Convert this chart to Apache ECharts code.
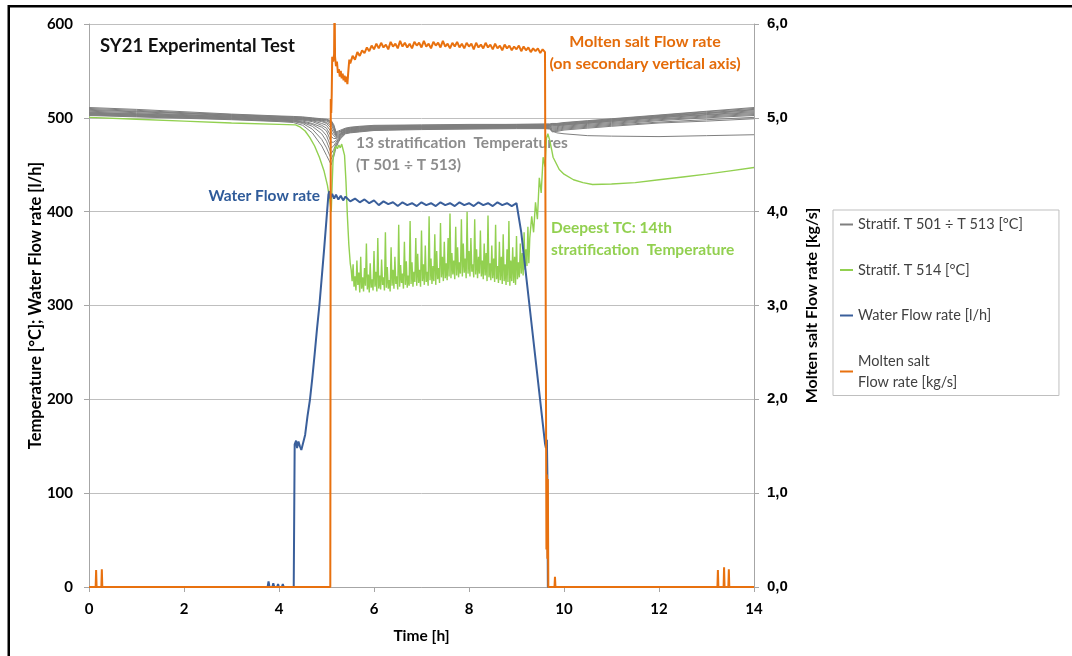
<!DOCTYPE html>
<html>
<head>
<meta charset="utf-8">
<title>SY21 Experimental Test</title>
<script src="https://cdn.jsdelivr.net/npm/echarts@6.0.0/dist/echarts.min.js"></script>
<style>
    html, body { margin: 0; padding: 0; background: #fff; }
    #mainChart { width: 1072px; height: 656px; }
</style>
</head>
<body>
<div id="mainChart"></div>
<script>
'use strict';

// axis ticks
var timeTicks = [0, 2, 4, 6, 8, 10, 12, 14];

// 13 stratification temperatures, all sampled on the same times
var grayTime = [0, 1, 2, 3, 4, 4.3, 4.5, 4.7, 4.9, 5.0, 5.1, 5.15, 5.2, 5.25, 5.3, 5.4, 5.5, 5.7, 6, 7, 8, 9, 9.6, 9.7, 9.75, 9.85, 10, 10.5, 11, 12, 13, 14];
var strat501 = [511, 509, 506.5, 504, 502, 501.5, 501, 500, 499, 498.5, 497, 493, 485, 486, 487, 489, 490, 491, 492, 492.5, 493, 493, 493.5, 493.5, 494, 494, 495, 497, 499, 503, 507, 511];
var strat502 = [510, 508, 505.5, 503.5, 501.5, 501, 500.5, 499.5, 498.5, 498, 496, 492, 484, 485, 486, 488.5, 489.5, 490.5, 491.5, 492, 492.5, 493, 493, 493, 493.5, 493.5, 494.5, 496.5, 498.5, 502.5, 506.5, 510];
var strat503 = [509, 507, 505, 503, 501, 500.5, 500, 499, 498, 497.5, 495, 491, 483, 484, 485.5, 488, 489, 490, 491, 491.5, 492, 492.5, 492.5, 492.5, 493, 493, 494, 496, 498, 502, 505.5, 509];
var strat504 = [508, 506.5, 504.5, 502.5, 500.5, 500, 499.5, 498.5, 497.5, 496.5, 494, 489, 482, 483, 485, 487.5, 488.5, 489.5, 490.5, 491, 491.5, 492, 492, 492.5, 492.5, 492.5, 493.5, 495.5, 497.5, 501.5, 505, 508.5];
var strat505 = [507, 505.5, 503.5, 502, 500, 499.5, 499, 498, 497, 495, 492, 487, 481, 482, 484, 487, 488, 489, 490, 490.5, 491, 491.5, 491.5, 492, 492, 492, 493, 495, 497, 501, 504.5, 507.5];
var strat506 = [506, 504.5, 503, 501.5, 499.5, 499, 498.5, 497.5, 496, 494, 489, 484, 480, 481, 483.5, 486.5, 487.5, 488.5, 489.5, 490.5, 491, 491, 491.5, 491.5, 491, 491.5, 492.5, 494.5, 496.5, 500.5, 503.5, 506.5];
var strat507 = [505.5, 504, 502.5, 501, 499, 498.5, 498, 497, 494, 492, 485, 481, 479, 480, 483, 486, 487, 488, 489, 490, 490.5, 491, 491, 491, 490, 490.5, 492, 494, 496, 500, 503, 505.5];
var strat508 = [505, 503.5, 502, 500.5, 498.5, 498, 497.5, 496, 492, 489, 480, 478, 478, 479, 482.5, 485.5, 486.5, 487.5, 488.5, 489.5, 490, 490.5, 490.5, 490.5, 489, 489.5, 491, 493, 495, 499, 502, 504.5];
var strat509 = [504.5, 503, 501.5, 500, 498, 497.5, 496.5, 494, 490, 486, 474, 474, 476, 478, 482, 485, 486, 487, 488, 489, 489.5, 490, 490, 490, 488, 488.5, 490, 492, 494, 498, 501, 503.5];
var strat510 = [504, 502.5, 501, 499.5, 497.5, 497, 495.5, 493, 487, 481, 468, 470, 474, 477, 481, 484.5, 485.5, 486.5, 488, 489, 489.5, 490, 490, 489.5, 487, 487.5, 489, 491, 493, 497, 500, 502.5];
var strat511 = [503.5, 502, 500.5, 499, 497, 496.5, 495, 491, 483, 475, 462, 466, 472, 476, 480, 484, 485, 486, 487.5, 488.5, 489, 489.5, 489.5, 489, 486, 486.5, 488, 490, 492, 495.5, 498, 500.5];
var strat512 = [503, 501.5, 500, 498.5, 496.5, 496, 494, 488, 477, 468, 456, 462, 470, 475, 479, 483.5, 484.5, 485.5, 487, 488, 488.5, 489, 489, 488.5, 485, 485.5, 487, 489, 491, 494.5, 496.5, 499];
var strat513 = [502.5, 501, 499.5, 498, 496, 495, 492, 484, 470, 460, 450, 458, 468, 474, 478, 483, 484, 485, 486.5, 487.5, 488, 488.5, 488.5, 488, 486, 484, 483, 481, 480.5, 480, 481, 482];

// deepest thermocouple T 514
var greenTime = [0, 1, 2, 3, 4, 4.35, 4.45, 4.55, 4.65, 4.75, 4.85, 4.95, 5.02, 5.07, 5.1, 5.12, 5.14, 5.17, 5.2, 5.23, 5.26, 5.29, 5.32, 5.35, 5.38, 5.41, 5.44, 5.47, 5.5,
    5.52, 5.54, 5.56, 5.58, 5.60, 5.62, 5.64, 5.66, 5.68, 5.70,
    5.72, 5.74, 5.76, 5.78, 5.80, 5.82, 5.84, 5.86, 5.88, 5.90,
    5.92, 5.94, 5.96, 5.98, 6.00, 6.02, 6.04, 6.06, 6.08, 6.10,
    6.12, 6.14, 6.16, 6.18, 6.20, 6.22, 6.24, 6.26, 6.28, 6.30,
    6.32, 6.34, 6.36, 6.38, 6.40, 6.42, 6.44, 6.46, 6.48, 6.50,
    6.52, 6.54, 6.56, 6.58, 6.60, 6.62, 6.64, 6.66, 6.68, 6.70,
    6.72, 6.74, 6.76, 6.78, 6.80, 6.82, 6.84, 6.86, 6.88, 6.90,
    6.92, 6.94, 6.96, 6.98, 7.00, 7.02, 7.04, 7.06, 7.08, 7.10,
    7.12, 7.14, 7.16, 7.18, 7.20, 7.22, 7.24, 7.26, 7.28, 7.30,
    7.32, 7.34, 7.36, 7.38, 7.40, 7.42, 7.44, 7.46, 7.48, 7.50,
    7.52, 7.54, 7.56, 7.58, 7.60, 7.62, 7.64, 7.66, 7.68, 7.70,
    7.72, 7.74, 7.76, 7.78, 7.80, 7.82, 7.84, 7.86, 7.88, 7.90,
    7.92, 7.94, 7.96, 7.98, 8.00, 8.02, 8.04, 8.06, 8.08, 8.10,
    8.12, 8.14, 8.16, 8.18, 8.20, 8.22, 8.24, 8.26, 8.28, 8.30,
    8.32, 8.34, 8.36, 8.38, 8.40, 8.42, 8.44, 8.46, 8.48, 8.50,
    8.52, 8.54, 8.56, 8.58, 8.60, 8.62, 8.64, 8.66, 8.68, 8.70,
    8.72, 8.74, 8.76, 8.78, 8.80, 8.82, 8.84, 8.86, 8.88, 8.90,
    8.92, 8.94, 8.96, 8.98, 9.00, 9.02, 9.04, 9.06, 9.08, 9.10,
    9.12, 9.14, 9.16, 9.18, 9.20, 9.22, 9.24, 9.26, 9.28,
    9.32, 9.36, 9.40, 9.44, 9.48, 9.52, 9.56, 9.60, 9.63, 9.66, 9.70, 9.74, 9.77, 9.85, 9.9, 10.0, 10.2, 10.4, 10.6, 11, 11.5, 12, 12.5, 13, 13.5, 14];
var greenVal = [500.5, 498.5, 496.5, 494.5, 493, 492.5, 490, 486, 479, 470, 458, 443, 428, 412, 400, 430, 458, 466, 470, 467, 471, 468, 472, 466, 460, 432, 395, 365, 345,
    338, 326, 344, 320, 331, 316, 348, 322, 335, 314,
    352, 318, 330, 315, 340, 321, 366, 317, 333, 314,
    345, 319, 328, 316, 358, 320, 336, 315, 372, 318,
    332, 317, 349, 322, 330, 316, 378, 319, 341, 318,
    327, 315, 362, 321, 338, 318, 352, 323, 331, 317,
    386, 320, 343, 324, 334, 318, 368, 322, 347, 319,
    332, 321, 390, 323, 346, 320, 336, 325, 372, 321,
    355, 324, 338, 320, 380, 326, 344, 322, 364, 325,
    336, 321, 395, 327, 350, 323, 342, 326, 376, 322,
    358, 328, 340, 324, 388, 330, 352, 326, 368, 329,
    345, 327, 372, 331, 398, 329, 356, 333, 348, 328,
    384, 332, 362, 330, 346, 334, 392, 331, 366, 335,
    350, 329, 400, 334, 358, 331, 372, 336, 344, 330,
    392, 333, 360, 329, 352, 334, 380, 331, 348, 328,
    366, 332, 356, 326, 396, 330, 345, 327, 364, 329,
    350, 325, 386, 328, 342, 324, 368, 327, 352, 323,
    376, 326, 344, 322, 360, 325, 390, 321, 348, 326,
    362, 324, 352, 322, 374, 328, 346, 330, 366, 334,
    356, 332, 378, 338, 360, 342, 384, 345, 372,
    395, 378, 410, 392, 436, 420, 458, 448, 478, 483, 476, 466, 458, 450, 445, 440, 434, 431, 429, 429.5, 431, 434, 437, 440, 443.5, 447];

// water flow rate [l/h]
var blueTime = [0, 2.98, 3.0, 3.02, 3.2, 3.22, 3.24, 3.5, 3.52, 3.54, 3.76, 3.78, 3.8, 3.86, 3.88, 3.9, 3.96, 3.98, 4.0, 4.06, 4.08, 4.1, 4.2, 4.22, 4.24, 4.31, 4.33,
    4.36, 4.38, 4.41, 4.44, 4.47, 4.5, 4.55, 4.6, 4.65, 4.7, 4.75, 4.8, 4.85, 4.9, 4.95, 5.0, 5.04, 5.06, 5.08,
    5.12, 5.16, 5.2, 5.25, 5.3, 5.35, 5.4, 5.5, 5.6, 5.7, 5.8, 5.9, 6.0, 6.1, 6.2, 6.3, 6.4, 6.5, 6.6, 6.7, 6.8, 6.9,
    7.0, 7.1, 7.2, 7.3, 7.4, 7.5, 7.6, 7.7, 7.8, 7.9, 8.0, 8.1, 8.2, 8.3, 8.4, 8.5, 8.6, 8.7, 8.8, 8.9, 9.0, 9.04,
    9.1, 9.2, 9.3, 9.4, 9.5, 9.6, 9.62, 9.64, 9.65, 9.66, 14];
var blueVal = [0, 0, 1, 0, 0, 2, 0, 0, 1, 0, 0, 6, 0, 0, 4, 0, 0, 3, 0, 0, 3, 0, 0, 2, 0, 0, 152,
    156, 148, 155, 150, 146, 144, 162, 182, 199, 222, 248, 275, 300, 330, 360, 392, 418, 422, 414,
    419, 414, 418, 413, 417, 412, 416, 411, 414, 410, 413, 409, 412, 407, 411, 408, 410, 406, 410, 407, 409, 406,
    410, 407, 409, 406, 410, 407, 409, 406, 410, 407, 409, 406, 410, 407, 409, 406, 410, 407, 409, 406, 409, 407,
    378, 333, 288, 243, 198, 153, 148, 157, 120, 0, 0];

// molten salt flow rate [kg/s], secondary axis
var saltTime = [0, 0.14, 0.15, 0.16, 0.26, 0.27, 0.28, 5.08, 5.09, 5.1, 5.11, 5.12, 5.14, 5.16, 5.17, 5.18,
    5.2, 5.22, 5.24, 5.26, 5.28, 5.3, 5.32, 5.34, 5.36, 5.38, 5.4, 5.42, 5.44, 5.46, 5.48, 5.5,
    5.55, 5.6, 5.65, 5.7, 5.75, 5.8, 5.85, 5.9, 5.95, 6.0,
    6.05, 6.10, 6.15, 6.20, 6.25, 6.30, 6.35, 6.40, 6.45, 6.50, 6.55, 6.60, 6.65, 6.70, 6.75, 6.80, 6.85, 6.90,
    6.95, 7.00, 7.05, 7.10, 7.15, 7.20, 7.25, 7.30, 7.35, 7.40, 7.45, 7.50, 7.55, 7.60, 7.65, 7.70, 7.75, 7.80,
    7.85, 7.90, 7.95, 8.00, 8.05, 8.10, 8.15, 8.20, 8.25, 8.30, 8.35, 8.40, 8.45, 8.50, 8.55, 8.60, 8.65, 8.70,
    8.75, 8.80, 8.85, 8.90, 8.95, 9.00, 9.05, 9.10, 9.15, 9.20, 9.25, 9.30, 9.35, 9.40, 9.45, 9.50, 9.55, 9.60,
    9.62, 9.63, 9.64, 9.65, 9.66, 9.67, 9.8, 9.81, 9.82, 13.23, 13.24, 13.25, 13.36, 13.37, 13.38, 13.46, 13.47, 13.48, 14];
var saltVal = [0, 0, 0.18, 0, 0, 0.19, 0, 0, 5.2, 5.05, 5.25, 5.65, 5.6, 5.68, 6.3, 5.65,
    5.55, 5.6, 5.48, 5.52, 5.44, 5.5, 5.42, 5.47, 5.4, 5.45, 5.38, 5.44, 5.36, 5.5, 5.62, 5.58,
    5.66, 5.62, 5.7, 5.66, 5.72, 5.69, 5.75, 5.71, 5.77, 5.73,
    5.79, 5.74, 5.80, 5.75, 5.78, 5.73, 5.81, 5.76, 5.79, 5.74, 5.82, 5.76, 5.80, 5.75, 5.79, 5.74, 5.81, 5.77,
    5.80, 5.75, 5.82, 5.76, 5.79, 5.74, 5.81, 5.77, 5.80, 5.75, 5.82, 5.76, 5.79, 5.74, 5.80, 5.76, 5.81, 5.75,
    5.79, 5.74, 5.80, 5.76, 5.79, 5.73, 5.80, 5.75, 5.78, 5.74, 5.80, 5.75, 5.78, 5.73, 5.79, 5.74, 5.77, 5.72,
    5.78, 5.74, 5.77, 5.72, 5.76, 5.73, 5.77, 5.71, 5.76, 5.72, 5.75, 5.70, 5.74, 5.71, 5.74, 5.69, 5.73, 5.70,
    5.72, 0.4, 1.2, 0.3, 1.15, 0, 0, 0.11, 0, 0, 0.18, 0, 0, 0.21, 0, 0, 0.19, 0, 0];

var legendNames = ['Stratif. T 501 ÷ T 513 [°C]', 'Stratif. T 514 [°C]', 'Water Flow rate [l/h]', 'Molten salt\nFlow rate [kg/s]'];

window.onload = function() {

    var myChart = echarts.init(document.getElementById('mainChart'), null, { renderer: 'canvas' });

    var font = 'Lato, "Open Sans", sans-serif';
    var axisGray = '#A6A6A6';

    function pairUp(times, values) {
        var out = [];
        for (var i = 0; i < times.length; i++) {
            out.push([times[i], values[i]]);
        }
        return out;
    }

    function label(text, x, y, color, size, align) {
        return {
            type: 'text',
            x: x,
            y: y,
            silent: true,
            style: {
                text: text,
                fill: color,
                font: 'bold ' + size + 'px ' + font,
                align: align || 'left',
                verticalAlign: 'middle'
            }
        };
    }

    var series = [];
    var stratLines = [strat501, strat502, strat503, strat504, strat505, strat506, strat507,
        strat508, strat509, strat510, strat511, strat512, strat513];
    stratLines.forEach(function(vals) {
        series.push({
            name: legendNames[0],
            type: 'line',
            data: pairUp(grayTime, vals),
            symbol: 'none',
            color: '#7F7F7F',
            lineStyle: { width: 1, color: '#7F7F7F' }
        });
    });
    series.push({
        name: legendNames[1],
        type: 'line',
        data: pairUp(greenTime, greenVal),
        symbol: 'none',
        color: '#92D050',
        lineStyle: { width: 1.4, color: '#92D050' }
    });
    series.push({
        name: legendNames[2],
        type: 'line',
        data: pairUp(blueTime, blueVal),
        symbol: 'none',
        color: '#3A5F9B',
        lineStyle: { width: 2, color: '#3A5F9B' }
    });
    series.push({
        name: legendNames[3],
        type: 'line',
        yAxisIndex: 1,
        data: pairUp(saltTime, saltVal),
        symbol: 'none',
        color: '#E8710F',
        lineStyle: { width: 2, color: '#E8710F' }
    });

    var option = {
        animation: false,
        backgroundColor: '#fff',
        grid: { left: 89, right: 318, top: 24, bottom: 69, outerBoundsMode: 'none' },
        legend: {
            data: legendNames,
            orient: 'vertical',
            left: 833,
            top: 210,
            padding: [4, 36, 3, 7],
            itemGap: 24.5,
            itemWidth: 13,
            itemHeight: 2,
            icon: 'rect',
            borderColor: '#BFBFBF',
            borderWidth: 1,
            selectedMode: false,
            textStyle: { fontFamily: font, fontSize: 14.5, color: '#404040', lineHeight: 21 }
        },
        xAxis: {
            type: 'value',
            min: 0,
            max: 14,
            interval: 2,
            name: 'Time [h]',
            nameLocation: 'middle',
            nameGap: 41,
            nameMoveOverlap: false,
            nameTextStyle: { fontFamily: font, fontWeight: 'bold', fontSize: 15.5, color: '#000' },
            axisLine: { show: true, onZero: false, lineStyle: { color: axisGray } },
            axisTick: { show: true, length: 5, lineStyle: { color: axisGray } },
            axisLabel: {
                margin: 15, fontFamily: font, fontWeight: 'bold', fontSize: 15, color: '#000',
                formatter: function(v) { return timeTicks.indexOf(v) >= 0 ? String(v) : ''; }
            },
            splitLine: { show: false }
        },
        yAxis: [{
            type: 'value',
            position: 'left',
            min: 0,
            max: 600,
            interval: 100,
            name: 'Temperature [°C]; Water Flow rate [l/h]',
            nameLocation: 'middle',
            nameRotate: 90,
            nameGap: 45,
            nameMoveOverlap: false,
            nameTextStyle: { fontFamily: font, fontWeight: 'bold', fontSize: 16.5, color: '#000' },
            axisLine: { show: true, onZero: false, lineStyle: { color: axisGray } },
            axisTick: { show: true, length: 5, lineStyle: { color: axisGray } },
            axisLabel: { margin: 16, fontFamily: font, fontWeight: 'bold', fontSize: 15, color: '#000' },
            splitLine: { show: true, lineStyle: { color: '#BFBFBF', width: 1 } }
        }, {
            type: 'value',
            position: 'right',
            min: 0,
            max: 6,
            interval: 1,
            name: 'Molten salt Flow rate [kg/s]',
            nameLocation: 'middle',
            nameRotate: 90,
            nameGap: 50,
            nameTextStyle: { fontFamily: font, fontWeight: 'bold', fontSize: 16, color: '#000' },
            axisLine: { show: true, onZero: false, lineStyle: { color: axisGray } },
            axisTick: { show: true, length: 5, lineStyle: { color: axisGray } },
            axisLabel: {
                margin: 13, fontFamily: '"Liberation Sans", Arial, sans-serif', fontWeight: 'bold', fontSize: 15, color: '#000',
                formatter: function(v) { return v.toFixed(1).replace('.', ','); }
            },
            splitLine: { show: false }
        }],
        graphic: [
            // frame of the original picture
            { type: 'rect', silent: true, shape: { x: 8, y: 5, width: 1064, height: 2.5 }, style: { fill: '#000' } },
            { type: 'rect', silent: true, shape: { x: 7.5, y: 5, width: 2.5, height: 651 }, style: { fill: '#000' } },
            label('SY21 Experimental Test', 100, 46, '#111', 18.5),
            label('Molten salt Flow rate', 645, 42, '#E46C0A', 16, 'center'),
            label('(on secondary vertical axis)', 645, 64, '#E46C0A', 16, 'center'),
            label('13 stratification  Temperatures', 356, 143, '#8C8C8C', 15.5),
            label('(T 501 ÷ T 513)', 356, 165, '#8C8C8C', 15.5),
            label('Water Flow rate', 320, 196, '#2F5B9A', 15.5, 'right'),
            label('Deepest TC: 14th', 551, 228, '#92D050', 15.5),
            label('stratification  Temperature', 551, 250, '#92D050', 15.5)
        ],
        series: series
    };

    myChart.setOption(option);
};
</script>
</body>
</html>
